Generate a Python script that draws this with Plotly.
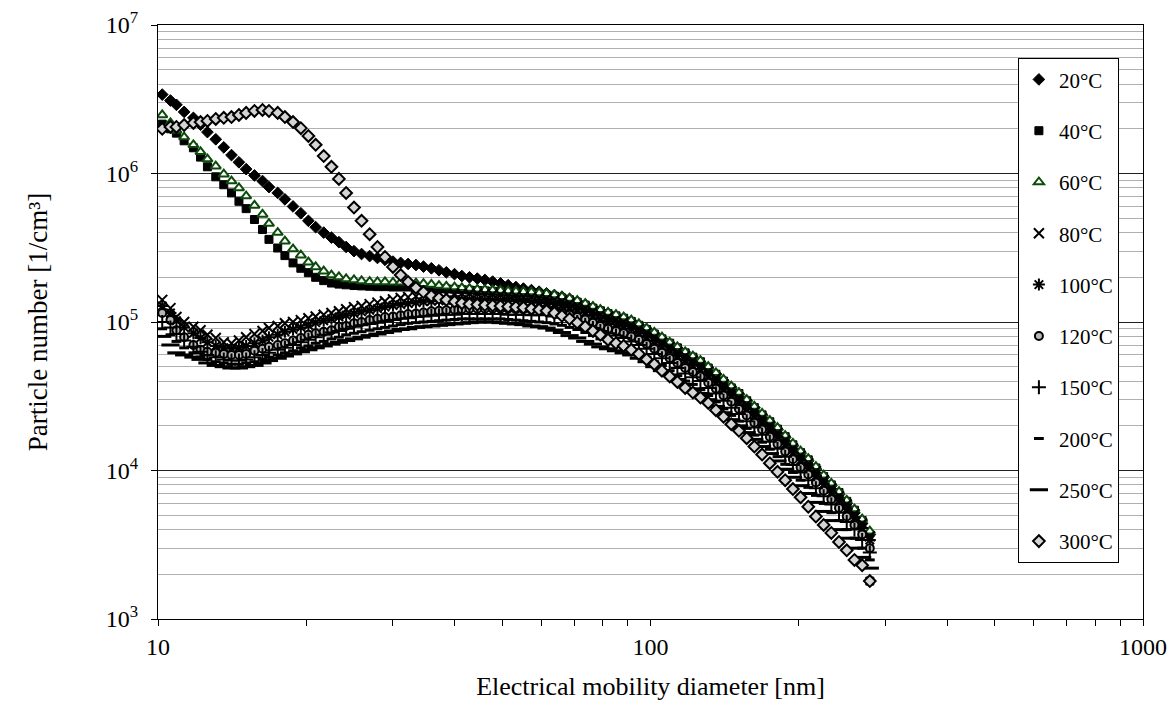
import plotly.graph_objects as go

# Electrical mobility diameter channels [nm]
diameter = [10.2, 10.6, 10.9, 11.3, 11.8, 12.2, 12.6, 13.1, 13.6, 14.1, 14.6, 15.1, 15.7, 16.3, 16.8,
            17.5, 18.1, 18.8, 19.5, 20.2, 20.9, 21.7, 22.5, 23.3, 24.1, 25.0, 25.9, 26.9, 27.9, 28.9,
            30.0, 31.1, 32.2, 33.4, 34.6, 35.9, 37.2, 38.5, 40.0, 41.4, 42.9, 44.5, 46.1, 47.8, 49.6,
            51.4, 53.3, 55.2, 57.3, 59.4, 61.5, 63.8, 66.1, 68.5, 71.0, 73.7, 76.4, 79.1, 82.0, 85.1,
            88.2, 91.4, 94.7, 98.2, 101.8, 105.5, 109.4, 113.4, 117.6, 121.9, 126.3, 131.0, 135.8, 140.7,
            145.9, 151.2, 156.8, 162.5, 168.5, 174.7, 181.1, 187.7, 194.6, 201.7, 209.1, 216.7, 224.7,
            232.9, 241.4, 250.3, 259.5, 269.0, 278.8]

n20 = [3.4e6, 3.1e6, 2.9e6, 2.6e6, 2.37e6, 2.13e6, 1.9e6, 1.7e6, 1.5e6, 1.33e6, 1.19e6, 1.07e6, 9.7e5, 8.9e5, 8.1e5,
       7.4e5, 6.7e5, 6.0e5, 5.4e5, 4.8e5, 4.35e5, 4.0e5, 3.7e5, 3.45e5, 3.2e5, 3.0e5, 2.87e5, 2.78e5, 2.7e5, 2.62e5,
       2.55e5, 2.5e5, 2.46e5, 2.42e5, 2.36e5, 2.3e5, 2.23e5, 2.16e5, 2.1e5, 2.04e5, 2.0e5, 1.96e5, 1.92e5, 1.87e5, 1.82e5,
       1.77e5, 1.72e5, 1.68e5, 1.64e5, 1.6e5, 1.56e5, 1.52e5, 1.48e5, 1.43e5, 1.37e5, 1.31e5, 1.25e5, 1.19e5, 1.14e5, 1.1e5,
       1.06e5, 1.01e5, 9.5e4, 8.9e4, 8.3e4, 7.7e4, 7.1e4, 6.6e4, 6.1e4, 5.7e4, 5.3e4, 4.9e4, 4.45e4, 4.0e4,
       3.6e4, 3.25e4, 2.95e4, 2.65e4, 2.35e4, 2.1e4, 1.88e4, 1.67e4, 1.47e4, 1.31e4, 1.16e4, 1.02e4, 9.0e3,
       7.9e3, 6.9e3, 6.0e3, 5.2e3, 4.4e3, 3.7e3]

n40 = [2.15e6, 2.0e6, 1.87e6, 1.66e6, 1.49e6, 1.29e6, 1.11e6, 9.5e5, 8.4e5, 7.4e5, 6.5e5, 5.8e5, 4.9e5, 4.2e5, 3.6e5,
       3.15e5, 2.8e5, 2.5e5, 2.3e5, 2.15e5, 2.0e5, 1.9e5, 1.83e5, 1.8e5, 1.78e5, 1.76e5, 1.75e5, 1.74e5, 1.73e5, 1.73e5,
       1.72e5, 1.72e5, 1.72e5, 1.71e5, 1.7e5, 1.69e5, 1.68e5, 1.67e5, 1.66e5, 1.65e5, 1.64e5, 1.63e5, 1.62e5, 1.61e5, 1.6e5,
       1.59e5, 1.58e5, 1.57e5, 1.56e5, 1.54e5, 1.52e5, 1.49e5, 1.45e5, 1.41e5, 1.36e5, 1.3e5, 1.24e5, 1.19e5, 1.14e5, 1.1e5,
       1.06e5, 1.01e5, 9.5e4, 8.9e4, 8.3e4, 7.7e4, 7.2e4, 6.7e4, 6.2e4, 5.8e4, 5.4e4, 4.9e4, 4.45e4, 4.0e4,
       3.6e4, 3.3e4, 2.95e4, 2.65e4, 2.37e4, 2.13e4, 1.9e4, 1.69e4, 1.49e4, 1.32e4, 1.18e4, 1.04e4, 9.1e3,
       8.0e3, 7.1e3, 6.2e3, 5.4e3, 4.6e3, 1.8e3]

n60 = [2.48e6, 2.19e6, 1.95e6, 1.76e6, 1.56e6, 1.4e6, 1.25e6, 1.12e6, 9.9e5, 8.9e5, 8.0e5, 7.05e5, 6.1e5, 5.3e5, 4.6e5,
       4.0e5, 3.5e5, 3.1e5, 2.82e5, 2.53e5, 2.35e5, 2.2e5, 2.07e5, 2.01e5, 1.95e5, 1.92e5, 1.89e5, 1.87e5, 1.86e5, 1.86e5,
       1.85e5, 1.85e5, 1.84e5, 1.83e5, 1.81e5, 1.79e5, 1.76e5, 1.74e5, 1.72e5, 1.7e5, 1.68e5, 1.66e5, 1.65e5, 1.64e5, 1.63e5,
       1.62e5, 1.61e5, 1.6e5, 1.59e5, 1.57e5, 1.55e5, 1.52e5, 1.48e5, 1.44e5, 1.39e5, 1.33e5, 1.27e5, 1.21e5, 1.16e5, 1.12e5,
       1.08e5, 1.03e5, 9.7e4, 9.1e4, 8.5e4, 7.9e4, 7.3e4, 6.8e4, 6.3e4, 5.9e4, 5.5e4, 5.0e4, 4.55e4, 4.1e4,
       3.7e4, 3.35e4, 3.0e4, 2.7e4, 2.42e4, 2.17e4, 1.94e4, 1.72e4, 1.52e4, 1.35e4, 1.2e4, 1.06e4, 9.3e3,
       8.2e3, 7.2e3, 6.3e3, 5.5e3, 4.7e3, 3.9e3]

n80 = [1.41e5, 1.24e5, 1.08e5, 1.0e5, 9.3e4, 8.8e4, 8.2e4, 7.8e4, 7.3e4, 7.2e4, 7.5e4, 7.9e4, 8.3e4, 8.7e4, 9.1e4,
       9.4e4, 9.8e4, 1.0e5, 1.03e5, 1.06e5, 1.09e5, 1.12e5, 1.15e5, 1.18e5, 1.22e5, 1.26e5, 1.28e5, 1.32e5, 1.35e5, 1.38e5,
       1.42e5, 1.45e5, 1.47e5, 1.49e5, 1.51e5, 1.52e5, 1.53e5, 1.54e5, 1.55e5, 1.55e5, 1.55e5, 1.55e5, 1.54e5, 1.53e5, 1.52e5,
       1.51e5, 1.5e5, 1.48e5, 1.47e5, 1.45e5, 1.44e5, 1.41e5, 1.38e5, 1.34e5, 1.29e5, 1.24e5, 1.18e5, 1.13e5, 1.08e5, 1.04e5,
       1.0e5, 9.6e4, 9.0e4, 8.5e4, 7.9e4, 7.3e4, 6.8e4, 6.3e4, 5.9e4, 5.5e4, 5.1e4, 4.65e4, 4.2e4, 3.8e4,
       3.45e4, 3.1e4, 2.8e4, 2.5e4, 2.25e4, 2.0e4, 1.8e4, 1.6e4, 1.41e4, 1.26e4, 1.12e4, 9.9e3, 8.6e3,
       7.6e3, 6.7e3, 5.9e3, 5.1e3, 4.4e3, 3.6e3]

n100 = [1.28e5, 1.15e5, 1.02e5, 9.2e4, 8.4e4, 7.8e4, 7.3e4, 6.9e4, 6.7e4, 6.6e4, 6.7e4, 6.9e4, 7.2e4, 7.5e4, 7.9e4,
        8.2e4, 8.6e4, 8.9e4, 9.2e4, 9.5e4, 9.9e4, 1.02e5, 1.05e5, 1.08e5, 1.11e5, 1.14e5, 1.17e5, 1.2e5, 1.23e5, 1.26e5,
        1.29e5, 1.31e5, 1.33e5, 1.35e5, 1.37e5, 1.38e5, 1.39e5, 1.4e5, 1.41e5, 1.41e5, 1.41e5, 1.41e5, 1.4e5, 1.4e5, 1.39e5,
        1.39e5, 1.38e5, 1.37e5, 1.36e5, 1.35e5, 1.35e5, 1.32e5, 1.29e5, 1.25e5, 1.21e5, 1.16e5, 1.1e5, 1.05e5, 1.01e5, 9.7e4,
        9.4e4, 9.0e4, 8.4e4, 7.9e4, 7.4e4, 6.9e4, 6.4e4, 5.9e4, 5.5e4, 5.1e4, 4.8e4, 4.35e4, 3.95e4, 3.55e4,
        3.2e4, 2.9e4, 2.6e4, 2.35e4, 2.1e4, 1.89e4, 1.69e4, 1.5e4, 1.32e4, 1.17e4, 1.04e4, 9.2e3, 8.1e3,
        7.1e3, 6.3e3, 5.5e3, 4.8e3, 4.1e3, 3.4e3]

n120 = [1.15e5, 1.03e5, 8.8e4, 7.9e4, 7.0e4, 6.5e4, 6.3e4, 6.2e4, 6.1e4, 6.0e4, 6.0e4, 6.1e4, 6.4e4, 6.6e4, 6.8e4,
        7.0e4, 7.2e4, 7.5e4, 7.8e4, 8.2e4, 8.4e4, 8.6e4, 8.8e4, 9.3e4, 9.4e4, 9.8e4, 1.0e5, 1.03e5, 1.05e5, 1.08e5,
        1.09e5, 1.11e5, 1.13e5, 1.14e5, 1.16e5, 1.18e5, 1.19e5, 1.2e5, 1.21e5, 1.22e5, 1.23e5, 1.23e5, 1.23e5, 1.23e5, 1.23e5,
        1.23e5, 1.22e5, 1.22e5, 1.21e5, 1.21e5, 1.21e5, 1.19e5, 1.15e5, 1.12e5, 1.08e5, 1.04e5, 9.9e4, 9.4e4, 9.0e4, 8.7e4,
        8.4e4, 8.0e4, 7.6e4, 7.1e4, 6.6e4, 6.2e4, 5.7e4, 5.3e4, 4.9e4, 4.6e4, 4.3e4, 3.9e4, 3.55e4, 3.2e4,
        2.9e4, 2.6e4, 2.35e4, 2.1e4, 1.89e4, 1.69e4, 1.51e4, 1.34e4, 1.19e4, 1.05e4, 9.4e3, 8.3e3, 7.3e3,
        6.4e3, 5.6e3, 4.9e3, 4.3e3, 3.7e3, 3.0e3]

n150 = [1.0e5, 9.2e4, 8.3e4, 7.5e4, 6.8e4, 6.3e4, 6.0e4, 5.8e4, 5.6e4, 5.5e4, 5.5e4, 5.6e4, 5.8e4, 6.0e4, 6.2e4,
        6.5e4, 6.7e4, 7.0e4, 7.3e4, 7.6e4, 7.9e4, 8.2e4, 8.5e4, 8.7e4, 9.0e4, 9.3e4, 9.5e4, 9.7e4, 9.9e4, 1.01e5,
        1.03e5, 1.05e5, 1.06e5, 1.08e5, 1.09e5, 1.1e5, 1.11e5, 1.12e5, 1.12e5, 1.13e5, 1.13e5, 1.13e5, 1.13e5, 1.13e5, 1.13e5,
        1.12e5, 1.12e5, 1.12e5, 1.11e5, 1.11e5, 1.12e5, 1.09e5, 1.07e5, 1.04e5, 1.0e5, 9.6e4, 9.1e4, 8.7e4, 8.4e4, 8.1e4,
        7.8e4, 7.4e4, 7.0e4, 6.6e4, 6.1e4, 5.7e4, 5.3e4, 4.9e4, 4.5e4, 4.25e4, 4.0e4, 3.6e4, 3.3e4, 2.95e4,
        2.65e4, 2.4e4, 2.15e4, 1.95e4, 1.74e4, 1.56e4, 1.4e4, 1.24e4, 1.09e4, 9.7e3, 8.6e3, 7.6e3, 6.7e3,
        5.9e3, 5.2e3, 4.5e3, 4.0e3, 3.4e3, 2.8e3]

n200 = [9.0e4, 8.2e4, 7.4e4, 6.7e4, 6.2e4, 5.8e4, 5.6e4, 5.4e4, 5.3e4, 5.2e4, 5.2e4, 5.3e4, 5.4e4, 5.6e4, 5.8e4,
        6.0e4, 6.2e4, 6.4e4, 6.7e4, 6.9e4, 7.2e4, 7.4e4, 7.7e4, 7.9e4, 8.2e4, 8.4e4, 8.6e4, 8.8e4, 9.0e4, 9.2e4,
        9.4e4, 9.6e4, 9.8e4, 9.9e4, 1.0e5, 1.01e5, 1.02e5, 1.03e5, 1.04e5, 1.05e5, 1.05e5, 1.05e5, 1.05e5, 1.05e5, 1.05e5,
        1.04e5, 1.03e5, 1.02e5, 1.01e5, 1.0e5, 9.9e4, 9.7e4, 9.5e4, 9.2e4, 8.9e4, 8.5e4, 8.1e4, 7.7e4, 7.4e4, 7.2e4,
        6.9e4, 6.6e4, 6.2e4, 5.8e4, 5.4e4, 5.1e4, 4.7e4, 4.35e4, 4.0e4, 3.8e4, 3.5e4, 3.2e4, 2.9e4, 2.6e4,
        2.35e4, 2.15e4, 1.92e4, 1.73e4, 1.55e4, 1.39e4, 1.24e4, 1.1e4, 9.7e3, 8.6e3, 7.7e3, 6.8e3, 6.0e3,
        5.2e3, 4.6e3, 4.0e3, 3.5e3, 3.0e3, 2.5e3]

n250 = [8.0e4, 7.0e4, 6.2e4, 6.0e4, 5.8e4, 5.6e4, 5.3e4, 5.1e4, 5.0e4, 4.9e4, 4.9e4, 5.0e4, 5.1e4, 5.3e4, 5.5e4,
        5.7e4, 5.9e4, 6.1e4, 6.3e4, 6.5e4, 6.7e4, 6.9e4, 7.1e4, 7.3e4, 7.5e4, 7.7e4, 7.9e4, 8.1e4, 8.3e4, 8.5e4,
        8.7e4, 8.9e4, 9.0e4, 9.2e4, 9.3e4, 9.4e4, 9.5e4, 9.6e4, 9.7e4, 9.8e4, 9.9e4, 1.0e5, 1.0e5, 1.0e5, 9.9e4,
        9.8e4, 9.7e4, 9.6e4, 9.4e4, 9.3e4, 9.1e4, 8.8e4, 8.5e4, 8.1e4, 7.8e4, 7.4e4, 7.1e4, 6.8e4, 6.6e4, 6.4e4,
        6.2e4, 6.0e4, 5.7e4, 5.4e4, 5.0e4, 4.7e4, 4.4e4, 4.1e4, 3.8e4, 3.55e4, 3.3e4, 3.0e4, 2.7e4, 2.45e4,
        2.2e4, 2.0e4, 1.8e4, 1.62e4, 1.45e4, 1.3e4, 1.16e4, 1.02e4, 9.0e3, 7.9e3, 7.0e3, 6.1e3, 5.3e3,
        4.6e3, 4.0e3, 3.5e3, 3.0e3, 2.6e3, 2.2e3]

n300 = [2.0e6, 2.06e6, 2.06e6, 2.12e6, 2.19e6, 2.22e6, 2.26e6, 2.33e6, 2.37e6, 2.4e6, 2.48e6, 2.56e6, 2.64e6, 2.68e6, 2.64e6,
        2.56e6, 2.4e6, 2.22e6, 2.02e6, 1.79e6, 1.56e6, 1.31e6, 1.11e6, 9.2e5, 7.4e5, 5.9e5, 4.8e5, 3.9e5, 3.2e5, 2.74e5,
        2.35e5, 2.07e5, 1.86e5, 1.7e5, 1.59e5, 1.5e5, 1.45e5, 1.41e5, 1.37e5, 1.34e5, 1.32e5, 1.31e5, 1.3e5, 1.29e5, 1.28e5,
        1.27e5, 1.26e5, 1.25e5, 1.23e5, 1.21e5, 1.19e5, 1.15e5, 1.1e5, 1.05e5, 9.9e4, 9.3e4, 8.7e4, 8.2e4, 7.6e4, 7.2e4,
        6.9e4, 6.5e4, 6.1e4, 5.6e4, 5.2e4, 4.7e4, 4.3e4, 3.95e4, 3.6e4, 3.35e4, 3.1e4, 2.85e4, 2.55e4, 2.3e4,
        2.05e4, 1.85e4, 1.65e4, 1.45e4, 1.28e4, 1.12e4, 9.8e3, 8.6e3, 7.5e3, 6.6e3, 5.7e3, 4.9e3, 4.3e3,
        3.8e3, 3.3e3, 2.9e3, 2.5e3, 2.3e3, 1.8e3]

series_names = ["20°C", "40°C", "60°C", "80°C", "100°C", "120°C", "150°C", "200°C", "250°C", "300°C"]
series_values = [n20, n40, n60, n80, n100, n120, n150, n200, n250, n300]

# axis ticks
x_major = [10, 100, 1000]
x_major_text = ["10", "100", "1000"]
x_minor = [20, 30, 40, 50, 60, 70, 80, 90, 200, 300, 400, 500, 600, 700, 800, 900]
y_major = [1e3, 1e4, 1e5, 1e6, 1e7]
y_major_text = ["10<sup>3</sup>", "10<sup>4</sup>", "10<sup>5</sup>", "10<sup>6</sup>", "10<sup>7</sup>"]
y_minor = [m * 10 ** e for e in (3, 4, 5, 6) for m in (2, 3, 4, 5, 6, 7, 8, 9)]

marker_styles = [
    dict(symbol="diamond", size=9, color="black", line=dict(color="black", width=1)),
    dict(symbol="square", size=8, color="black", line=dict(color="black", width=1)),
    dict(symbol="triangle-up", size=9, color="white", line=dict(color="#0b4a0b", width=2)),
    dict(symbol="x-thin", size=10, color="black", line=dict(color="black", width=2)),
    dict(symbol="asterisk", size=10, color="black", line=dict(color="black", width=2)),
    dict(symbol="circle", size=8, color="#b8b8b8", line=dict(color="black", width=2)),
    dict(symbol="cross-thin", size=10, color="black", line=dict(color="black", width=2)),
    dict(symbol="line-ew", size=7, color="black", line=dict(color="black", width=3)),
    dict(symbol="line-ew", size=13, color="black", line=dict(color="black", width=3)),
    dict(symbol="diamond", size=9, color="#d4d4d4", line=dict(color="black", width=2)),
]

FONT = "Liberation Serif, Times New Roman, serif"

fig = go.Figure()
for name, vals, mk in zip(series_names, series_values, marker_styles):
    fig.add_trace(go.Scatter(x=diameter, y=vals, mode="markers", name=name,
                             legendgroup=name, marker=mk))

fig.update_layout(
    width=1170, height=705,
    margin=dict(l=158, r=27, t=25, b=86),
    paper_bgcolor="white", plot_bgcolor="white",
    font=dict(family=FONT, size=22, color="black"),
    showlegend=True,
    legend=dict(x=0.873, y=0.944, xanchor="left", yanchor="top",
                bordercolor="black", borderwidth=1, bgcolor="white",
                font=dict(family=FONT, size=21), tracegroupgap=21),
    xaxis=dict(type="log", range=[1, 3], showgrid=False, zeroline=False, automargin=False,
               showline=True, linecolor="black", linewidth=1, mirror=True,
               ticks="outside", ticklen=6, tickcolor="black",
               tickvals=x_major, ticktext=x_major_text,
               minor=dict(tickmode="array", tickvals=x_minor, ticks="outside", ticklen=6,
                          tickcolor="black", showgrid=False),
               title=dict(text="Electrical mobility diameter [nm]", font=dict(size=26), standoff=18),
               tickfont=dict(size=24)),
    yaxis=dict(type="log", range=[3, 7], showgrid=True, gridcolor="#202020", gridwidth=1,
               zeroline=False, automargin=False,
               showline=True, linecolor="black", linewidth=1, mirror=True,
               ticks="outside", ticklen=6, tickcolor="black", ticklabelstandoff=8,
               tickvals=y_major, ticktext=y_major_text,
               minor=dict(tickmode="array", tickvals=y_minor, showgrid=True,
                          gridcolor="#b0b0b0", gridwidth=1, ticks=""),
               title=dict(text="Particle number [1/cm³]", font=dict(size=27), standoff=50),
               tickfont=dict(size=24)),
)

fig.write_html("out.html")
